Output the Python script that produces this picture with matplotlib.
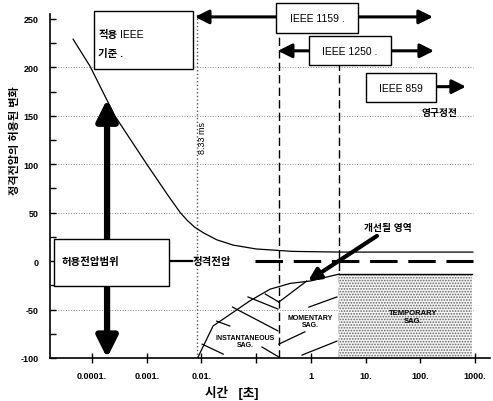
import matplotlib.pyplot as plt
from matplotlib.patches import Rectangle
import numpy as np

plt.rcParams['font.family'] = ['Liberation Sans', 'Noto Sans CJK KR']
plt.rcParams['hatch.color'] = '#666666'
plt.rcParams['hatch.linewidth'] = 0.8

# allowed-voltage curve (time s, % of rated voltage)
curve_t = [4.5e-5, 9.2e-5, 2.6e-4, 1.0e-3, 2.5e-3, 4.1e-3, 5.5e-3, 7.5e-3, 0.011, 0.019,
           0.038, 0.1, 0.47, 3.3, 920]
curve_v = [229, 201, 150, 100, 67, 50, 42, 35, 29, 22, 16.5, 12.5, 10, 9.3, 9.3]

# lower boundary of the sag regions
sag_t = [0.0085, 0.0163, 0.077, 0.18, 0.42, 0.97, 2.3, 3.3]
sag_v = [-100, -67, -41, -29, -23, -20.6, -15.5, -13.4]
temp_t = [3.3, 885]
temp_v = -13.4

# event boundaries (s)
t_cycle = 0.00833
t_inst = 0.26
t_mom = 3.3

# hatch strokes inside the instantaneous / momentary sag areas
hatch_segs = [
    ((0.0103, -85.7), (0.025, -96)),
    ((0.019, -62), (0.033, -67)),
    ((0.037, -47.5), (0.25, -72)),
    ((0.071, -37), (0.25, -49.5)),
    ((0.147, -34), (0.26, -42.3)),
    ((0.128, -88.7), (0.26, -99)),
    ((0.26, -42.3), (0.84, -20.6)),
    ((0.92, -47.5), (3.0, -37)),
    ((0.26, -85.7), (0.78, -73)),
    ((0.69, -97), (3.0, -82.6)),
]

x_ticks = [1e-4, 1e-3, 1e-2, 1e-1, 1, 10, 100, 1000]
x_labels = ['0.0001.', '0.001.', '0.01.', '', '1', '10.', '100.', '1000.']
y_ticks = [-100, -50, 0, 50, 100, 150, 200, 250]
grid_y = [200, 150, 100, 50, -50]

fig = plt.figure(figsize=(4.93, 4.02), dpi=100)
ax = fig.add_axes([0.1014, 0.107, 0.8925, 0.8557])
ax.set_xscale('log')
ax.set_xlim(1.7e-5, 1890)
ax.set_ylim(-100, 255)

for s in ['top', 'right']:
    ax.spines[s].set_visible(False)
ax.spines['left'].set_linewidth(1.2)
ax.spines['bottom'].set_linewidth(1.2)

ax.set_xticks(x_ticks)
ax.set_xticklabels(x_labels, fontsize=6.5, fontweight='bold')
ax.xaxis.set_minor_locator(plt.NullLocator())
ax.tick_params(axis='x', direction='inout', length=7, width=1, pad=6)
ax.set_yticks(y_ticks)
ax.set_yticklabels([str(v) for v in y_ticks], fontsize=6.5, fontweight='bold')
ax.set_yticks(np.arange(-100, 256, 25), minor=True)
ax.tick_params(axis='y', which='both', direction='in', length=4, width=1, pad=8)

# grid
ax.hlines(grid_y, 1.7e-5, 920, colors='#888888', linestyles=':', linewidth=0.7, zorder=1)
ax.axvline(t_cycle, color='#555555', linestyle=':', linewidth=1, zorder=1)
ax.axvline(t_inst, color='black', linestyle=(0, (6, 3)), linewidth=1, zorder=1)
ax.axvline(t_mom, color='black', linestyle=(0, (6, 3)), linewidth=1, zorder=1)
ax.text(0.0105, 128, '8.33 ms', rotation=90, fontsize=6.5, ha='center', va='center')

# allowed curve and rated line
ax.plot(curve_t, curve_v, color='black', linewidth=0.9, zorder=3)
ax.plot([0.096, 920], [0, 0], color='black', linewidth=2.2, linestyle=(0, (9, 3.5)), zorder=3)
ax.plot([2.56e-3, 6.6e-3], [0, 0], color='black', linewidth=1.6, zorder=3)
ax.text(6.8e-3, 0, '정격전압', fontsize=7.5, fontweight='bold', ha='left', va='center', zorder=4)

# sag areas
ax.plot(sag_t, sag_v, color='black', linewidth=0.9, zorder=3)
ax.plot(temp_t, [temp_v, temp_v], color='black', linewidth=1.0, zorder=3)
ax.add_patch(Rectangle((temp_t[0], -100), temp_t[1] - temp_t[0], temp_v + 100,
                       facecolor='#f4f4f4', edgecolor='#666666', linewidth=0, hatch='......', zorder=2))
for (a, b) in hatch_segs:
    ax.plot([a[0], b[0]], [a[1], b[1]], color='black', linewidth=0.9, zorder=3)

ax.text(0.063, -82.5, 'INSTANTANEOUS\nSAG.', fontsize=5, fontweight='bold', ha='center', va='center',
        linespacing=1.1, zorder=4)
ax.text(0.97, -62, 'MOMENTARY\nSAG.', fontsize=5, fontweight='bold', ha='center', va='center',
        linespacing=1.1, zorder=4)
ax.text(74, -57, 'TEMPORARY\nSAG.', fontsize=5.5, fontweight='bold', ha='center', va='center',
        linespacing=1.1, zorder=4)

# improvement arrow
ax.annotate('', xy=(0.89, -20.6), xytext=(16.2, 26),
            arrowprops=dict(arrowstyle='-|>,head_length=0.6,head_width=0.3', color='black',
                            lw=3, mutation_scale=12, shrinkA=0, shrinkB=0), zorder=5)
ax.text(25.8, 35, '개선될 영역', fontsize=7, fontweight='bold', ha='center', va='center')

# allowed voltage range arrow and box
ax.annotate('', xy=(1.88e-4, 167), xytext=(1.88e-4, -100),
            arrowprops=dict(arrowstyle='<|-|>,head_length=0.9,head_width=0.45', color='black',
                            lw=4.5, mutation_scale=14, shrinkA=0, shrinkB=0), zorder=5)
ax.add_patch(Rectangle((2.0e-5, -25.8), 2.56e-3 - 2.0e-5, 48.5, facecolor='white',
                       edgecolor='black', linewidth=1, zorder=6, clip_on=False))
ax.text(2.8e-5, 0, '허용전압범위', fontsize=7.5, fontweight='bold', ha='left', va='center', zorder=7)

# standards arrows
ax.annotate('', xy=(7.6e-3, 252), xytext=(171, 252),
            arrowprops=dict(arrowstyle='<|-|>,head_length=0.7,head_width=0.35', color='black',
                            lw=2.2, mutation_scale=12, shrinkA=0, shrinkB=0),
            zorder=5, annotation_clip=False)
ax.annotate('', xy=(0.25, 217), xytext=(179, 217),
            arrowprops=dict(arrowstyle='<|-|>,head_length=0.7,head_width=0.35', color='black',
                            lw=2.2, mutation_scale=12, shrinkA=0, shrinkB=0), zorder=5)
ax.annotate('', xy=(687, 180), xytext=(195, 180),
            arrowprops=dict(arrowstyle='-|>,head_length=0.7,head_width=0.35', color='black',
                            lw=2.2, mutation_scale=12, shrinkA=0, shrinkB=0), zorder=5)

boxes = [
    ((1.09e-4, 198), (7.0e-3, 258)),
    ((0.23, 235), (7.3, 266)),
    ((0.93, 202), (29, 232)),
    ((10.2, 164), (195, 194)),
]
for (x0, y0), (x1, y1) in boxes:
    ax.add_patch(Rectangle((x0, y0), x1 - x0, y1 - y0, facecolor='white', edgecolor='black',
                           linewidth=1, zorder=6, clip_on=False))

ax.text(1.3e-4, 234, '적용', fontsize=7.5, fontweight='bold', ha='left', va='center', zorder=7)
ax.text(3.2e-4, 234, 'IEEE', fontsize=7.5, ha='left', va='center', zorder=7)
ax.text(1.3e-4, 215, '기준 .', fontsize=7.5, fontweight='bold', ha='left', va='center', zorder=7)
ax.text(1.3, 251, 'IEEE 1159 .', fontsize=7.5, ha='center', va='center', zorder=7, clip_on=False)
ax.text(5.2, 217, 'IEEE 1250 .', fontsize=7.5, ha='center', va='center', zorder=7)
ax.text(45, 179, 'IEEE 859', fontsize=7.5, ha='center', va='center', zorder=7)
ax.text(230, 154, '영구정전', fontsize=7, fontweight='bold', ha='center', va='center')

# axis labels
fig.text(232 / 493, 1 - 393 / 402, '시간   [초]', fontsize=9, fontweight='bold', ha='center', va='center')
fig.text(15 / 493, 1 - 141 / 402, '정격전압의 허용된 변화', fontsize=8, fontweight='bold',
         rotation=90, ha='center', va='center')

fig.savefig('out.png', dpi=100)
